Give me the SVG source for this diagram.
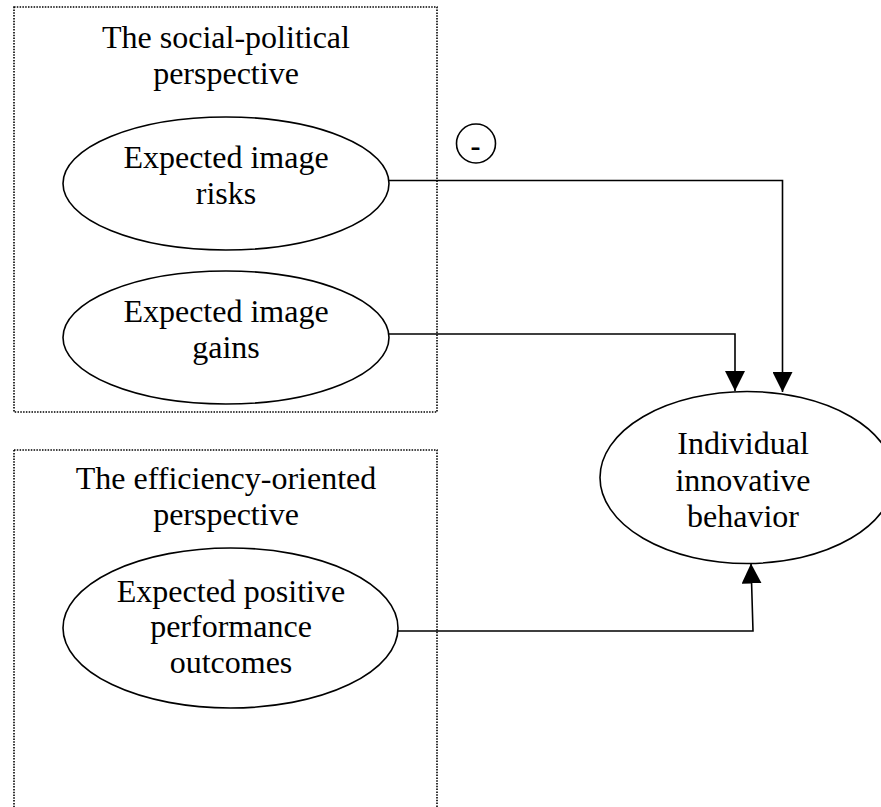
<svg xmlns="http://www.w3.org/2000/svg" width="881" height="807" viewBox="0 0 881 807">
  <style>
    .box { fill: none; stroke: #000; stroke-width: 1.6; stroke-dasharray: 1.5 1.3; }
    .node { fill: #fff; stroke: #000; stroke-width: 1.6; }
    .t { font-family: "Liberation Serif", "Times New Roman", serif; font-size: 32px; fill: #000; text-anchor: middle; }
    .conn { fill: none; stroke: #000; stroke-width: 1.6; }
  </style>
  <defs>
    <marker id="arrow" markerUnits="userSpaceOnUse" viewBox="0 0 20 20" markerWidth="20" markerHeight="20" refX="20" refY="10" orient="auto">
      <path d="M0,0 L20,10 L0,20 z" fill="#000"/>
    </marker>
  </defs>
  <rect width="881" height="807" fill="#fff"/>

  <g id="social-political-box">
    <rect class="box" x="14" y="7" width="423" height="405"/>
    <text class="t" x="226" y="48">The social-political</text>
    <text class="t" x="226" y="84">perspective</text>
  </g>

  <g id="efficiency-box">
    <rect class="box" x="14" y="450" width="423" height="380"/>
    <text class="t" x="226" y="488.5">The efficiency-oriented</text>
    <text class="t" x="226" y="524.5">perspective</text>
  </g>

  <g id="connectors">
    <path class="conn" d="M389,180.5 H782.5 V392" marker-end="url(#arrow)"/>
    <path class="conn" d="M389,334 H735 V391" marker-end="url(#arrow)"/>
    <path class="conn" d="M398,631 H753 L751,563.5" marker-end="url(#arrow)"/>
  </g>

  <g id="image-risks">
    <ellipse class="node" cx="226" cy="183.5" rx="163" ry="66.5"/>
    <text class="t" x="226" y="167.5">Expected image</text>
    <text class="t" x="226" y="203.5">risks</text>
  </g>

  <g id="image-gains">
    <ellipse class="node" cx="226" cy="337.5" rx="163" ry="66.5"/>
    <text class="t" x="226" y="321.5">Expected image</text>
    <text class="t" x="226" y="357.5">gains</text>
  </g>

  <g id="performance-outcomes">
    <ellipse class="node" cx="230.5" cy="628" rx="167.5" ry="80"/>
    <text class="t" x="231" y="601.5">Expected positive</text>
    <text class="t" x="231" y="637">performance</text>
    <text class="t" x="231" y="673">outcomes</text>
  </g>

  <g id="innovative-behavior">
    <ellipse class="node" cx="747" cy="477.5" rx="147" ry="86"/>
    <text class="t" x="743" y="453.5">Individual</text>
    <text class="t" x="743" y="491">innovative</text>
    <text class="t" x="743" y="527">behavior</text>
  </g>

  <g id="negative-sign">
    <circle cx="476" cy="143.5" r="19.5" fill="none" stroke="#000" stroke-width="1.6"/>
    <text x="475.5" y="156" font-family="Liberation Serif, 'Times New Roman', serif" font-size="30" font-weight="bold" text-anchor="middle">-</text>
  </g>
</svg>
